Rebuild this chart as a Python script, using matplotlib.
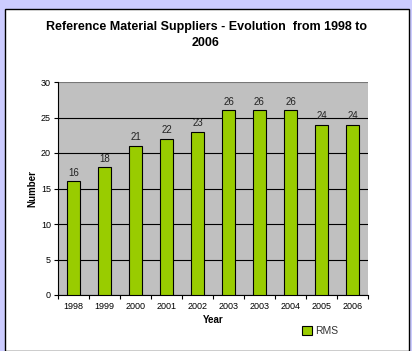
import matplotlib.pyplot as plt
from matplotlib.patches import Rectangle

years = ['1998', '1999', '2000', '2001', '2002', '2003', '2003', '2004', '2005', '2006']
rms = [16, 18, 21, 22, 23, 26, 26, 26, 24, 24]

W, H = 412, 351
fig = plt.figure(figsize=(W / 100, H / 100), dpi=100)
fig.patch.set_facecolor('#CCCCFF')

# white panel with black border
fig.patches.append(Rectangle((5 / W, 0), (404 / W), 1 - 9 / H, transform=fig.transFigure,
                             facecolor='white', edgecolor='black', linewidth=1, zorder=-1))

ax = fig.add_axes([58 / W, 1 - 295 / H, 310 / W, 213 / H])
ax.set_facecolor('#C0C0C0')
x = range(len(years))
bars = ax.bar(x, rms, width=0.42, color='#99CC00', edgecolor='black', linewidth=0.8,
              label='RMS', zorder=3)
for xi, v in zip(x, rms):
    ax.text(xi, v + 0.5, str(v), ha='center', va='bottom', fontsize=7,
            family='Liberation Sans', color='#222222', zorder=4)

ax.set_xlim(-0.5, len(years) - 0.5)
ax.set_ylim(0, 30)
ax.set_yticks(range(0, 31, 5))
ax.yaxis.grid(True, color='black', linewidth=0.8, zorder=1)
ax.get_ygridlines()[-1].set_color('#777777')
ax.set_axisbelow(True)
ax.set_xticks([i + 0.5 for i in range(-1, len(years))], minor=False)
ax.set_xticks(list(x), minor=True)
ax.set_xticklabels([''] * (len(years) + 1))
ax.set_xticklabels(years, minor=True)
ax.tick_params(axis='x', which='minor', length=0, labelsize=6.5, pad=5)
ax.tick_params(axis='x', which='major', length=3, direction='out')
ax.tick_params(axis='y', labelsize=6.5, length=3, pad=2)
for lbl in ax.get_xticklabels(minor=True) + ax.get_yticklabels():
    lbl.set_family('Liberation Sans')
for s in ['top', 'right']:
    ax.spines[s].set_visible(False)
ax.spines['left'].set_color('black')
ax.spines['bottom'].set_color('black')

ax.set_xlabel('Year', fontsize=7, fontweight='bold', family='Liberation Sans', labelpad=3)
ax.set_ylabel('Number', fontsize=7, fontweight='bold', family='Liberation Sans', labelpad=3)

fig.text(0.5, 1 - 35 / H, 'Reference Material Suppliers - Evolution  from 1998 to\n2006',
         ha='center', va='center', fontsize=9, fontweight='bold', family='Liberation Sans',
         linespacing=1.45)

leg = ax.legend(loc='center', bbox_to_anchor=(320 / W, 1 - 331 / H),
                bbox_transform=fig.transFigure, frameon=False, handlelength=0.9,
                handleheight=0.9, handletextpad=0.3,
                prop={'family': 'Liberation Sans', 'size': 7.5})
leg.get_texts()[0].set_color('#333333')

fig.savefig('out.png', dpi=100, facecolor=fig.get_facecolor())
